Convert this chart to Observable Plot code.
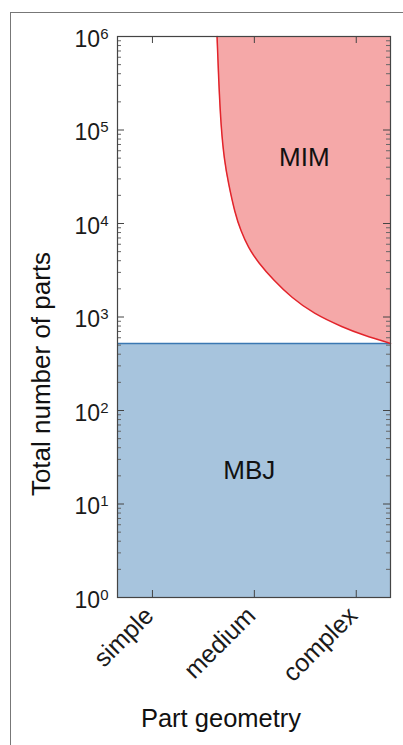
<!DOCTYPE html>
<html><head><meta charset="utf-8">
<script src="https://cdn.jsdelivr.net/npm/d3@7"></script>
<script src="https://cdn.jsdelivr.net/npm/@observablehq/plot@0.6"></script>
<style>
body{margin:0;background:#fff;font-family:"Liberation Sans",Arial,sans-serif;}
#wrap{position:relative;width:403px;height:745px;overflow:hidden}
#border{position:absolute;left:10px;top:12px;width:420px;height:760px;border-left:1.5px solid #777;border-top:1.5px solid #777}
#chart{position:absolute;left:0;top:0}
</style></head><body><div id="wrap"><div id="border"></div><div id="chart"></div></div>
<script>
// ---- data ----
const geometryTicks = [1, 2, 3];
const geometryLabels = ["simple", "medium", "complex"];
const xDomain = [0.657, 3.336];
const yDomain = [1, 1e6];
const yMajorTicks = [1, 10, 100, 1e3, 1e4, 1e5, 1e6];
const yMinorMultipliers = [2, 3, 4, 5, 6, 7, 8, 9];
// MIM boundary (curve from top edge down to the right edge)
const mimX = [1.634, 1.650, 1.673, 1.706, 1.745, 1.810, 1.866, 1.941, 2.040, 2.190, 2.363, 2.578, 2.873, 3.070, 3.336];
const mimY = [1e6, 3.4e5, 1.06e5, 4.7e4, 2.7e4, 1.28e4, 8.4e3, 5.5e3, 3.8e3, 2.46e3, 1.62e3, 1.09e3, 772, 640, 521];
// MBJ region: flat upper limit
const mbjX = [0.657, 3.336];
const mbjLevel = [521, 521];
// region labels
const regionNames = ["MIM", "MBJ"];
const regionX = [2.49, 1.95];
const regionY = [5.1e4, 22.8];

// ---- layout ----
const W = 403, H = 745, mT = 36, mL = 117, mR = 13, mB = 148;
const frameW = W - mL - mR, frameH = H - mT - mB;
const majorLen = 7, minorLen = 4;

const mim = mimX.map((x, i) => ({x, y1: mimY[i], y2: yDomain[1]}));
const mbj = mbjX.map((x, i) => ({x, y1: yDomain[0], y2: mbjLevel[i]}));
const regions = regionNames.map((name, i) => ({name, x: regionX[i], y: regionY[i]}));
const minorTicks = yMajorTicks.slice(0, -1).flatMap(p => yMinorMultipliers.map(m => m * p));

const font = '"Liberation Sans", Arial, sans-serif';
const plot = Plot.plot({
  width: W, height: H, marginTop: mT, marginLeft: mL, marginRight: mR, marginBottom: mB,
  style: {fontFamily: font, fontSize: "22px", color: "#1a1a1a", background: "transparent", overflow: "visible"},
  x: {domain: xDomain},
  y: {type: "log", domain: yDomain},
  marks: [
    Plot.areaY(mbj, {x: "x", y1: "y1", y2: "y2", fill: "#a7c4dd"}),
    Plot.ruleY([mbjLevel[0]], {stroke: "#3b78b2", strokeWidth: 1.5}),
    Plot.areaY(mim, {x: "x", y1: "y1", y2: "y2", fill: "#f5a8a8", curve: "basis"}),
    Plot.line(mim, {x: "x", y: "y1", stroke: "#e2242b", strokeWidth: 1.5, curve: "basis"}),
    Plot.text(regions, {x: "x", y: "y", text: "name", fontSize: 26, fill: "#111"}),
    // inward ticks
    Plot.tickX(geometryTicks, {x: d => d, insetTop: frameH - majorLen, stroke: "#444"}),
    Plot.tickX(geometryTicks, {x: d => d, insetBottom: frameH - majorLen, stroke: "#444"}),
    Plot.tickY(yMajorTicks, {y: d => d, insetRight: frameW - majorLen, stroke: "#444"}),
    Plot.tickY(yMajorTicks, {y: d => d, insetLeft: frameW - majorLen, stroke: "#444"}),
    Plot.tickY(minorTicks, {y: d => d, insetRight: frameW - minorLen, stroke: "#666"}),
    Plot.tickY(minorTicks, {y: d => d, insetLeft: frameW - minorLen, stroke: "#666"}),
    Plot.frame({stroke: "#444", strokeWidth: 1.2}),
    // tick labels
    Plot.axisY({ticks: yMajorTicks, anchor: "left", tickSize: 0, tickPadding: 9, dy: 3,
      tickFormat: d => String(Math.round(Math.log10(d))), label: null, fontSize: 23}),
    Plot.axisX({ticks: geometryTicks, anchor: "bottom", tickSize: 0, tickPadding: 14, tickRotate: -45, dx: -3,
      tickFormat: d => geometryLabels[d - 1], label: null, fontSize: 25}),
    // axis titles
    Plot.text(["Part geometry"], {frameAnchor: "bottom", textAnchor: "middle", dx: -33, dy: 129, fontSize: 25.5, fill: "#111"}),
    Plot.text(["Total number of parts"], {frameAnchor: "left", textAnchor: "middle", rotate: -90, dx: -76, dy: 57, fontSize: 26, fill: "#111"})
  ]
});

d3.select(plot).selectAll('g[aria-label="y-axis tick label"] text').each(function () {
  const e = this.textContent;
  const s = d3.select(this);
  s.text("10");
  s.append("tspan").attr("dy", "-0.55em").attr("font-size", "15px").text(e);
});

document.getElementById("chart").appendChild(plot);
</script></body></html>
